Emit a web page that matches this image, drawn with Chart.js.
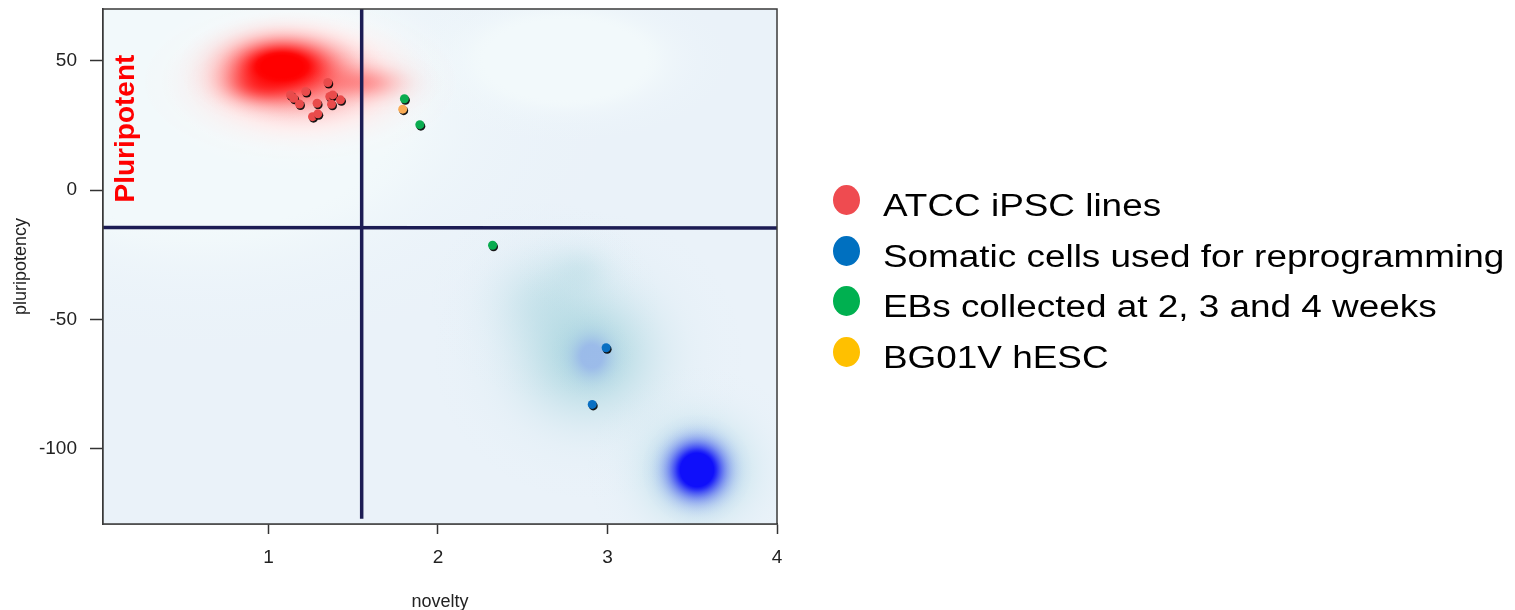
<!DOCTYPE html>
<html>
<head>
<meta charset="utf-8">
<script src="https://cdn.jsdelivr.net/npm/chart.js@4.4.0/dist/chart.umd.min.js"></script>
<style>
  html, body { margin: 0; padding: 0; background: #fff; }
  #wrap { position: relative; width: 1515px; height: 610px; }
  #legend { position: absolute; left: 833px; top: 181px; font-family: "Liberation Sans", Arial, sans-serif; }
  .row { display: flex; align-items: center; height: 50.5px; font-size: 31px; line-height: 50.5px; color: #000; white-space: nowrap; }
  .dot { width: 27px; height: 30px; border-radius: 50%; margin-right: 23px; transform: translateY(-6px); flex: none; }
  .txt { display: inline-block; transform: scaleX(1.19); transform-origin: left center; }
</style>
</head>
<body>
<div id="wrap">
  <canvas id="myChart" width="1515" height="610"></canvas>
  <div id="legend"></div>
</div>
<script>
// ---- data ----
var seriesNames = ["ATCC iPSC lines", "Somatic cells used for reprogramming", "EBs collected at 2, 3 and 4 weeks", "BG01V hESC"];
var pointColors = ["#e94b4b", "#0a6fc2", "#0aac50", "#f9ab55"];
var legendColors = ["#ef4b50", "#0070c0", "#00b050", "#ffc000"];

var ipscX = [1.13, 1.149, 1.183, 1.22, 1.287, 1.26, 1.291, 1.35, 1.362, 1.379, 1.372, 1.425];
var ipscY = [36.8, 35.5, 33.3, 38.1, 33.6, 28.4, 29.5, 41.6, 36.2, 36.8, 33.2, 34.9];
var somaticX = [2.992, 2.91];
var somaticY = [-60.9, -82.8];
var ebX = [1.802, 1.893, 2.322];
var ebY = [35.3, 25.3, -21.3];
var hescX = [1.792];
var hescY = [31.3];

// quadrant dividers
var vLineX = [1.55, 1.55];
var vLineY = [70, -127];
var hLineX = [0.02, 4];
var hLineY = [-14.4, -14.6];

var xTicks = [1, 2, 3, 4];
var yTicks = [-100, -50, 0, 50];

// smoothed density surface behind the points (centre, spread, peak)
var densX    = [0.596, 2.749, 1.186, 1.186, 1.080, 0.962, 1.569, 2.631, 2.838, 2.885, 2.907, 3.528, 3.528];
var densY    = [31.1, 50.4, 42.7, 41.9, 47.7, 40.8, 41.5, -42.3, -30.7, -63.6, -64.2, -108.1, -108.1];
var densSX   = [0.737, 0.304, 0.30, 0.283, 0.177, 0.13, 0.142, 0.206, 0.118, 0.265, 0.071, 0.189, 0.094];
var densSY   = [29, 9.9, 11.5, 9.3, 6.2, 4.25, 3.9, 11.6, 5.8, 16.2, 5, 11.6, 6.2];
var densPeak = [4, 4, 4, 0.45, 1.4, 0.6, 0.3, 0.3, 0.2, 0.7, 1.5, 0.6, 1.8];
var densRGB  = ["242,249,251", "242,249,251", "255,255,255", "255,0,0", "255,0,0", "255,0,0", "255,0,0",
                "150,205,215", "150,205,215", "150,205,215", "150,180,235", "120,195,210", "15,15,250"];
var densAlpha = [1, 1, 0.9, 1, 1, 1, 1, 1, 1, 1, 0.8, 1, 1];

function pts(xs, ys) {
  return xs.map(function (x, i) { return { x: x, y: ys[i] }; });
}

var densityPlugin = {
  id: 'density',
  beforeDatasetsDraw: function (chart) {
    var ctx = chart.ctx, a = chart.chartArea;
    var xs = chart.scales.x, ys = chart.scales.y;
    ctx.save();
    ctx.beginPath();
    ctx.rect(a.left, a.top, a.right - a.left, a.bottom - a.top);
    ctx.clip();
    ctx.fillStyle = '#eaf2f9';
    ctx.fillRect(a.left, a.top, a.right - a.left, a.bottom - a.top);
    for (var k = 0; k < densX.length; k++) {
      var cx = xs.getPixelForValue(densX[k]), cy = ys.getPixelForValue(densY[k]);
      var rx = Math.abs(xs.getPixelForValue(densX[k] + densSX[k]) - cx);
      var ry = Math.abs(ys.getPixelForValue(densY[k] + densSY[k]) - cy);
      var R = 3.5;
      ctx.save();
      ctx.translate(cx, cy);
      ctx.scale(rx, ry);
      var g = ctx.createRadialGradient(0, 0, 0, 0, 0, R);
      for (var i = 0; i <= 20; i++) {
        var r = R * i / 20;
        var al = Math.min(1, densPeak[k] * Math.exp(-r * r / 2)) * densAlpha[k];
        if (i == 20) al = 0;
        g.addColorStop(i / 20, 'rgba(' + densRGB[k] + ',' + al.toFixed(4) + ')');
      }
      ctx.fillStyle = g;
      ctx.beginPath();
      ctx.arc(0, 0, R, 0, Math.PI * 2);
      ctx.fill();
      ctx.restore();
    }
    ctx.restore();
  },
  afterDatasetsDraw: function (chart) {
    var ctx = chart.ctx, a = chart.chartArea;
    ctx.save();
    ctx.strokeStyle = '#3a3a3a';
    ctx.lineWidth = 1.5;
    ctx.strokeRect(a.left, a.top, a.right - a.left, a.bottom - a.top);
    // quadrant label
    var px = chart.scales.x.getPixelForValue(0.208);
    var py = chart.scales.y.getPixelForValue(23.8);
    ctx.translate(px, py);
    ctx.rotate(-Math.PI / 2);
    ctx.fillStyle = '#ff0000';
    ctx.font = 'bold 28px "Liberation Sans", Arial, sans-serif';
    ctx.textAlign = 'center';
    ctx.textBaseline = 'alphabetic';
    ctx.fillText('Pluripotent', 0, 0);
    ctx.restore();
  },
  beforeDatasetDraw: function (chart, args) {
    if (!chart.data.datasets[args.index].showLine) {
      var ctx = chart.ctx;
      ctx.save();
      ctx.shadowColor = 'rgba(0,0,0,0.9)';
      ctx.shadowOffsetX = 1;
      ctx.shadowOffsetY = 1.5;
      ctx.shadowBlur = 0;
    }
  },
  afterDatasetDraw: function (chart, args) {
    if (!chart.data.datasets[args.index].showLine) {
      chart.ctx.restore();
    }
  }
};

var allX = [ipscX, somaticX, ebX, hescX];
var allY = [ipscY, somaticY, ebY, hescY];
var datasets = [];
for (var s = 0; s < seriesNames.length; s++) {
  datasets.push({
    label: seriesNames[s],
    data: pts(allX[s], allY[s]),
    backgroundColor: pointColors[s],
    borderWidth: 0,
    pointRadius: 4.5
  });
}
datasets.push({
  label: 'vline', data: pts(vLineX, vLineY), showLine: true,
  borderColor: '#1c1c54', borderWidth: 3.5, pointRadius: 0
});
datasets.push({
  label: 'hline', data: pts(hLineX, hLineY), showLine: true,
  borderColor: '#1c1c54', borderWidth: 3.5, pointRadius: 0
});

var tickFont = { family: '"Liberation Sans", Arial, sans-serif', size: 19 };
var titleFont = { family: '"Liberation Sans", Arial, sans-serif', size: 18 };

var chart = new Chart(document.getElementById("myChart"), {
  type: 'scatter',
  data: { datasets: datasets },
  options: {
    responsive: false,
    animation: false,
    devicePixelRatio: 1,
    layout: { padding: { left: 0, right: 738, top: 9, bottom: 0 } },
    plugins: { legend: { display: false }, tooltip: { enabled: false } },
    scales: {
      x: {
        type: 'linear', min: 0.024, max: 4,
        afterBuildTicks: function (sc) { sc.ticks = xTicks.map(function (v) { return { value: v }; }); },
        afterFit: function (sc) { sc.height = 86; sc.paddingLeft = 0; sc.paddingRight = 0; },
        grid: { drawOnChartArea: false, drawTicks: true, tickLength: 10, tickColor: '#333', tickWidth: 1.5 },
        border: { display: true, color: '#3a3a3a', width: 1.5 },
        ticks: { color: '#222', font: tickFont, padding: 12, maxRotation: 0 },
        title: { display: true, text: 'novelty', color: '#222', font: titleFont, padding: { top: 0, bottom: -3 } }
      },
      y: {
        type: 'linear', min: -129, max: 70,
        afterBuildTicks: function (sc) { sc.ticks = yTicks.map(function (v) { return { value: v }; }); },
        afterFit: function (sc) { sc.width = 103; sc.paddingTop = 0; sc.paddingBottom = 0; },
        grid: { drawOnChartArea: false, drawTicks: true, tickLength: 13, tickColor: '#333', tickWidth: 1.5 },
        border: { display: true, color: '#3a3a3a', width: 1.5 },
        ticks: { color: '#222', font: tickFont, padding: 13 },
        title: { display: true, text: 'pluripotency', color: '#222', font: titleFont, padding: { top: 10, bottom: 0 } }
      }
    }
  },
  plugins: [densityPlugin]
});

// legend
var legendDiv = document.getElementById('legend');
seriesNames.forEach(function (name, i) {
  var row = document.createElement('div');
  row.className = 'row';
  var dot = document.createElement('span');
  dot.className = 'dot';
  dot.style.background = legendColors[i];
  var txt = document.createElement('span');
  txt.className = 'txt';
  txt.textContent = name;
  row.appendChild(dot);
  row.appendChild(txt);
  legendDiv.appendChild(row);
});
</script>
</body>
</html>
